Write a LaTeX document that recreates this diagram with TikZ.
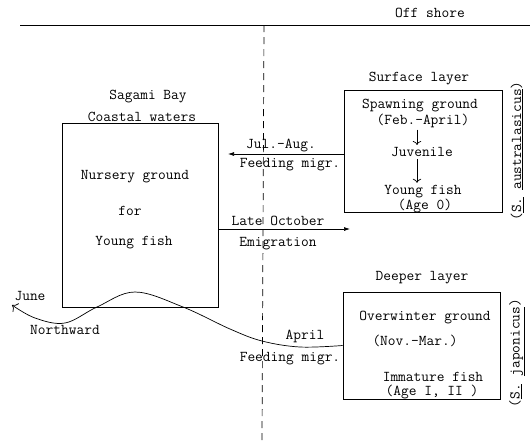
\documentclass[tikz,border=0pt]{standalone}
\usetikzlibrary{arrows.meta}

\begin{document}
\begin{tikzpicture}[x=1pt, y=-1pt, line width=0.7pt,
	every node/.style={font=\ttfamily\fontsize{15}{17}\selectfont, inner sep=0.5pt},
	bigarr/.style={-{Latex[length=6pt,width=4pt]}},
	smallarr/.style={-{To[length=4pt]}, shorten <=1.5pt, shorten >=1.5pt}]
	\useasboundingbox (0,0) rectangle (530,440);
	% shore line and boundary
	\draw (20,25) -- (530,25);
	\draw[dash pattern=on 7pt off 5pt] (264,25) -- (262,440);
	\node (off) at (430,13) {Off shore};
	% coastal side
	\node (sagami) at (148,97) {Sagami Bay};
	\node (coast) at (142,117) {Coastal waters};
	\node[draw, minimum width=156pt, minimum height=184pt] (nurs) at (140,215) {};
	\node (nur1) at (135,177) {Nursery ground};
	\node (nur2) at (130,211) {for};
	\node (nur3) at (134,243) {Young fish};
	% surface layer
	\node (surflbl) at (419,79) {Surface layer};
	\node[draw, minimum width=158pt, minimum height=122pt] (surf) at (423,151) {};
	\node (spawn) at (420,105.5) {Spawning ground};
	\node (febapr) at (423,120.5) {(Feb.-April)};
	\node (juv) at (422,152) {Juvenile};
	\node (young) at (423,191.5) {Young fish};
	\node (age0) at (425,206.5) {(Age 0)};
	\draw[smallarr] (febapr.south -| 417,0) -- (juv.north -| 417,0);
	\draw[smallarr] (juv.south -| 417,0) -- (young.north -| 417,0);
	\node[rotate=90] (aus) at (517,151) {(\underline{S.} \underline{australasicus})};
	% deeper layer
	\node (deeplbl) at (422,278) {Deeper layer};
	\node[draw, minimum width=157pt, minimum height=107pt] (deep) at (421.5,345.5) {};
	\node (over) at (425,318) {Overwinter ground};
	\node (novmar) at (415,341) {(Nov.-Mar.)};
	\node (imm) at (433,377) {Immature fish};
	\node (age12) at (432,392.5) {(Age I, II )};
	\node[rotate=90] (jap) at (517,353) {(\underline{S.} \underline{japonicus})};
	% migrations
	\coordinate (julend) at (228,154);
	\draw[bigarr] (surf.west |- julend) -- (julend);
	\node (jul) at (281,146) {Jul.-Aug.};
	\node (feed1) at (290,165) {Feeding migr.};
	\coordinate (octend) at (350,229);
	\draw[bigarr] (nurs.east |- octend) -- (octend);
	\node (oct) at (278,221) {Late October};
	\node (emi) at (278,244) {Emigration};
	\coordinate (juneend) at (12,305);
	\draw[-{To[length=5pt]}] plot[smooth, tension=0.6] coordinates {(deep.west) (300,347) (262,341) (230,329) (183,307) (135,292) (97,307) (65,323) (35,318) (juneend)};
	\node (apr) at (305,336) {April};
	\node (feed2) at (290,359) {Feeding migr.};
	\node (june) at (30,296) {June};
	\node (north) at (65,330) {Northward};
\end{tikzpicture}
\end{document}
